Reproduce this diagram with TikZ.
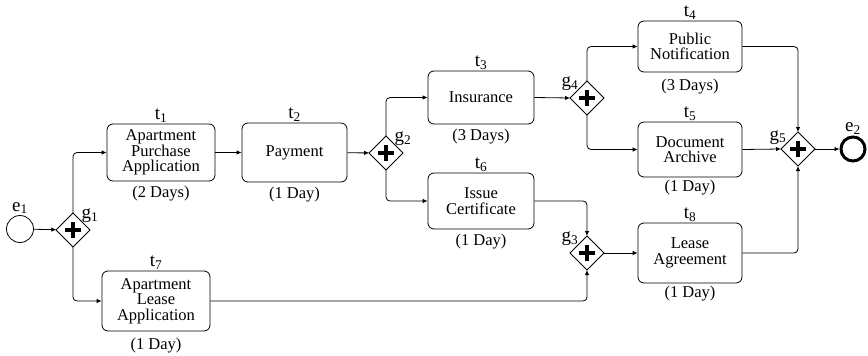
\documentclass[tikz,border=0pt]{standalone}
\usepackage{fontspec}
\setmainfont{Liberation Serif}
\usetikzlibrary{shapes.geometric,arrows.meta}
\newcommand{\sbs}[2]{#1\textsubscript{#2}}
\tikzset{
  task/.style={draw, rounded corners=6pt, line width=0.8pt, minimum width=106pt,
    minimum height=56pt, align=center, inner sep=1pt,
    font=\fontsize{16.5}{15.5}\selectfont},
  gate/.style={diamond, draw, line width=0.8pt, minimum width=34pt, minimum height=34pt,
    inner sep=0pt, outer sep=0pt,
    path picture={\draw[line width=3.4pt, shift={(path picture bounding box.center)}]
      (-8pt,0pt) -- (8pt,0pt) (0pt,-8pt) -- (0pt,8pt);}},
  startev/.style={circle, draw, line width=0.8pt, minimum size=27pt, inner sep=0pt},
  endev/.style={circle, draw, line width=3pt, minimum size=24pt, inner sep=0pt},
  flow/.style={line width=0.8pt, rounded corners=4pt, -{Latex[length=5pt,width=4.5pt]}},
  tlab/.style={font=\fontsize{19}{19}\selectfont, inner sep=1pt},
  dur/.style={font=\fontsize{16.5}{16.5}\selectfont, inner sep=1pt},
}

\begin{document}
\begin{tikzpicture}[x=1pt, y=-1pt]
  \useasboundingbox (0,0) rectangle (868,356);

  % events and gateways
  \node[startev] (e1) at (20,229) {};
  \node[endev] (e2) at (853,149) {};
  \node[gate] (g1) at (73,230) {};
  \node[gate] (g2) at (386,153) {};
  \node[gate] (g3) at (587,253) {};
  \node[gate] (g4) at (587,98) {};
  \node[gate] (g5) at (798,149) {};

  % tasks
  \node[task, minimum width=108pt, minimum height=57pt] (t1) at (161,152.5) {Apartment\\Purchase\\Application};
  \node[task, minimum width=105pt, minimum height=59pt] (t2) at (294.5,152.5) {Payment};
  \node[task, minimum height=53pt] (t3) at (481,97.5) {Insurance};
  \node[task, minimum width=104pt, minimum height=51pt] (t4) at (690,46.5) {Public\\Notification};
  \node[task, minimum width=104pt, minimum height=55pt] (t5) at (690,149.5) {Document\\Archive};
  \node[task] (t6) at (481,201) {Issue\\Certificate};
  \node[task, minimum width=108pt, minimum height=60pt] (t7) at (156,301) {Apartment\\Lease\\Application};
  \node[task, minimum width=104pt, minimum height=60pt] (t8) at (690,253) {Lease\\Agreement};

  % names
  \node[tlab, above] (e1n) at (e1.north) {\sbs{e}{1}};
  \node[tlab, above] (e2n) at (e2.north) {\sbs{e}{2}};
  \foreach \t/\i in {t1/1,t2/2,t3/3,t4/4,t5/5,t6/6,t7/7,t8/8}
    \node[tlab, above] (\t n) at (\t.north) {\sbs{t}{\i}};
  \node[tlab, anchor=south west] (g1n) at ([xshift=-1pt,yshift=-2pt]g1.north east) {\sbs{g}{1}};
  \node[tlab, anchor=south west] (g2n) at ([xshift=-1pt,yshift=-2pt]g2.north east) {\sbs{g}{2}};
  \node[tlab, anchor=south east] (g3n) at ([xshift=1pt,yshift=-2pt]g3.north west) {\sbs{g}{3}};
  \node[tlab, anchor=south east] (g4n) at ([xshift=1pt,yshift=-2pt]g4.north west) {\sbs{g}{4}};
  \node[tlab, anchor=south east] (g5n) at ([xshift=-2pt,yshift=-5pt]g5.north west) {\sbs{g}{5}};

  % durations
  \node[dur, below=3pt] (t1d) at (t1.south) {(2 Days)};
  \node[dur, below=3pt] (t2d) at (t2.south) {(1 Day)};
  \node[dur, below=3pt] (t3d) at (t3.south) {(3 Days)};
  \node[dur, below=5pt] (t4d) at (t4.south) {(3 Days)};
  \node[dur, below=1pt] (t5d) at (t5.south) {(1 Day)};
  \node[dur, below=3pt] (t6d) at (t6.south) {(1 Day)};
  \node[dur, below=5pt] (t7d) at (t7.south) {(1 Day)};
  \node[dur, below=1pt] (t8d) at (t8.south) {(1 Day)};

  % sequence flows
  \draw[flow] (e1) -- (g1);
  \draw[flow] (g1.north) |- (t1.west);
  \draw[flow] (g1.south) |- (t7.west);
  \draw[flow] (t1) -- (t2);
  \draw[flow] (t2) -- (g2);
  \draw[flow] (g2.north) |- (t3.west);
  \draw[flow] (g2.south) |- (t6.west);
  \draw[flow] (t3.east) -- (g4.west);
  \draw[flow] (g4.north) |- (t4.west);
  \draw[flow] (g4.south) |- (t5.west);
  \draw[flow] (t6.east) -| (g3.north);
  \draw[flow] (t7.east) -| (g3.south);
  \draw[flow] (g3) -- (t8);
  \draw[flow] (t4.east) -| (g5.north);
  \draw[flow] (t5.east) -- (g5.west);
  \draw[flow] (t8.east) -| (g5.south);
  \draw[flow] (g5) -- (e2);
\end{tikzpicture}
\end{document}
